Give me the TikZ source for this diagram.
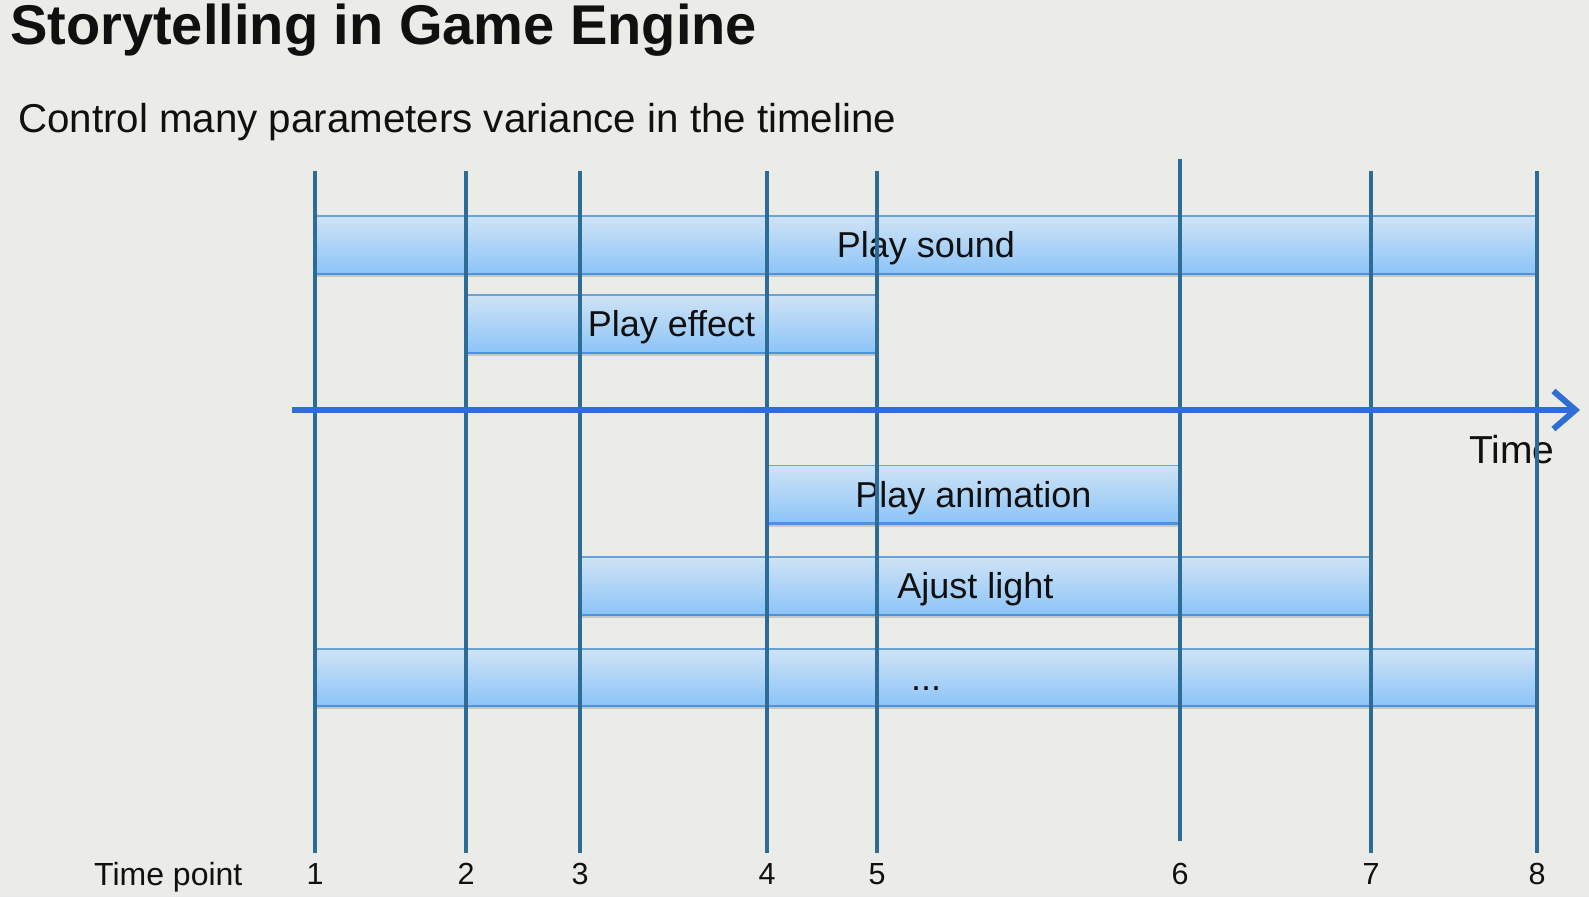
\documentclass[tikz,border=0pt]{standalone}
\usepackage{fontspec}
\setmainfont{Liberation Sans}
\usetikzlibrary{arrows.meta,shadows}
\definecolor{bgcol}{HTML}{EBEBE7}
\definecolor{gridcol}{HTML}{2E6C98}
\definecolor{axiscol}{HTML}{2F6FD3}
\definecolor{bartop}{HTML}{CFE3F5}
\definecolor{barbot}{HTML}{8CC4F8}
\definecolor{baredge}{HTML}{6AA3DA}
\definecolor{barbase}{HTML}{4C93DE}
\definecolor{inkcol}{HTML}{101010}

\begin{document}
\begin{tikzpicture}[x=1pt,y=-1pt,
  bar/.style={draw=baredge, line width=1.3pt, top color=bartop, bottom color=barbot,
    minimum height=58pt, inner sep=0pt, outer sep=0pt,
    text height=25pt, text depth=0pt, text=inkcol,
    font=\fontsize{36}{43}\selectfont,
    drop shadow={shadow xshift=0pt, shadow yshift=-3pt, opacity=0.15, fill=black}},
  barbottom/.style={draw=barbase, line width=2.2pt},
  gridline/.style={draw=gridcol, line width=3.2pt},
  axis/.style={draw=axiscol, line width=6.5pt,
    -{Straight Barb[length=22pt, width=38pt, line width=6pt]}},
  heading/.style={anchor=base west, inner sep=0pt, text=inkcol},
  tplabel/.style={anchor=base, inner sep=0pt, text=inkcol, font=\fontsize{30.5}{36}\selectfont}]

% canvas
\fill[bgcol] (0,0) rectangle (1589,897);
\useasboundingbox (0,0) rectangle (1589,897);

% headings
\node[heading, font=\fontsize{56}{64}\selectfont\bfseries] (title) at (10,44) {Storytelling in Game Engine};
\node[heading, font=\fontsize{40.3}{47}\selectfont] (subtitle) at (18,132) {Control many parameters variance in the timeline};

% activity bars
\node[bar, minimum width=1222pt] (sound) at (926,245) {Play sound};
\node[bar, minimum width=411pt]  (effect) at (671.5,324) {Play effect};
\node[bar, minimum width=413pt]  (anim) at (973.5,494.5) {Play animation};
\node[bar, minimum width=791pt]  (light) at (975.5,586) {Ajust light};
\node[bar, minimum width=1222pt, minimum height=57pt] (more) at (926,677.5) {...};
\foreach \b in {sound,effect,anim,light,more}
  \draw[barbottom] (\b.south west) -- (\b.south east);

% axis captions
\node[heading, font=\fontsize{39}{46}\selectfont] (timecap) at (1469,463) {Time};
\node[heading, font=\fontsize{32}{38}\selectfont] (tpcap) at (94,885) {Time point};

% time points and their vertical markers
\foreach \n/\x/\t/\b in {1/315/171/853, 2/466/171/853, 3/580/171/853, 4/767/171/853,
                         5/877/171/853, 6/1180/159/841, 7/1371/171/853, 8/1537/171/853} {
  \coordinate (top\n) at (\x,\t);
  \coordinate (bot\n) at (\x,\b);
  \node[tplabel] (tp\n) at (\x,884) {\n};
  \draw[gridline] (top\n) -- (bot\n);
}

% time axis
\coordinate (axstart) at (292,410);
\coordinate (axend) at (1580,410);
\draw[axis] (axstart) -- (axend);
\end{tikzpicture}
\end{document}
